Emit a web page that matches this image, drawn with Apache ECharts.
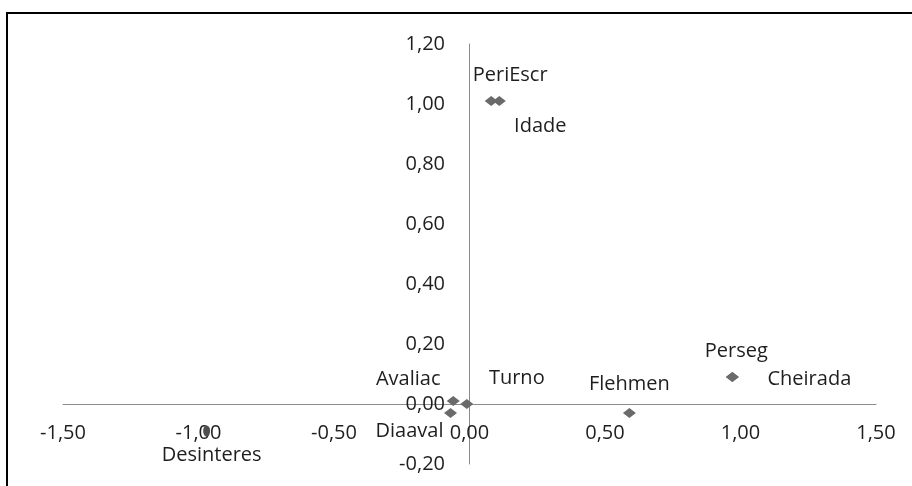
<!DOCTYPE html>
<html>
<head>
<meta charset="utf-8">
<script src="https://cdn.jsdelivr.net/npm/echarts@6/dist/echarts.min.js"></script>
<style>
  html, body { margin: 0; padding: 0; background: #fff; overflow: hidden; }
  #frame { position: absolute; left: 6px; top: 12px; width: 1000px; height: 600px;
           border-left: 2px solid #000; border-top: 2px solid #000; }
  #chart { position: absolute; left: 0; top: 0; width: 912px; height: 486px; }
</style>
</head>
<body>
<div id="frame"></div>
<div id="chart"></div>
<script>
// pontos (variáveis)
var names = ['PeriEscr', 'Idade', 'Avaliac', 'Turno', 'Diaaval', 'Flehmen', 'Perseg', 'Cheirada', 'Desinteres'];
var xVals = [0.08, 0.11, -0.06, -0.01, -0.07, 0.59, 0.97, 0.97, -0.97];
var yVals = [1.01, 1.01, 0.01, 0.00, -0.03, -0.03, 0.09, 0.09, -0.09];

// posição dos rótulos (deslocamento do texto em px)
var labelOffsets = {
    PeriEscr: [19, -26],
    Idade: [41, 25],
    Avaliac: [-45, -22],
    Turno: [50, -26],
    Diaaval: [-41, 18],
    Flehmen: [0, -29],
    Perseg: [4, -26],
    Cheirada: [77, 2],
    Desinteres: [5, 24]
};

var fonte = '"Open Sans", "Noto Sans", sans-serif';
var corTexto = '#1e1e1e';

function fmt(v) {
    return v.toFixed(2).replace('.', ',');
}

var pontos = names.map(function (n, i) {
    var item = {
        name: n,
        value: [xVals[i], yVals[i]],
        label: { offset: labelOffsets[n] }
    };
    if (n === 'Desinteres') {
        item.symbol = 'circle';
        item.symbolSize = [7, 11];
        item.itemStyle = { color: '#4f4f4f', opacity: 1 };
    }
    return item;
});

var myChart = echarts.init(document.getElementById('chart'));
myChart.setOption({
    animation: false,
    textStyle: { fontFamily: fonte },
    grid: { left: 63, right: 36, top: 44, bottom: 22, containLabel: false, outerBoundsMode: 'none' },
    xAxis: {
        type: 'value',
        min: -1.5,
        max: 1.5,
        interval: 0.5,
        axisLine: { onZero: true, lineStyle: { color: '#8c8c8c', width: 1 } },
        axisTick: { show: false },
        splitLine: { show: false },
        // rótulos junto ao eixo que passa no zero
        axisLabel: { margin: -41, color: corTexto, fontSize: 20, fontFamily: fonte, formatter: fmt,
                     showMinLabel: true, showMaxLabel: true, hideOverlap: false }
    },
    yAxis: {
        type: 'value',
        min: -0.2,
        max: 1.2,
        interval: 0.2,
        axisLine: { onZero: true, lineStyle: { color: '#8c8c8c', width: 1 } },
        axisTick: { show: false },
        splitLine: { show: false },
        axisLabel: { margin: -382, color: corTexto, fontSize: 20, fontFamily: fonte, formatter: fmt,
                     showMinLabel: true, showMaxLabel: true, hideOverlap: false }
    },
    series: [{
        type: 'scatter',
        data: pontos,
        symbol: 'diamond',
        symbolSize: [13, 10],
        itemStyle: { color: '#6a6a6a', opacity: 1 },
        z: 5,
        label: {
            show: true,
            position: 'inside',
            align: 'center',
            verticalAlign: 'middle',
            formatter: '{b}',
            color: corTexto,
            fontSize: 20,
            fontFamily: fonte
        }
    }]
});
</script>
</body>
</html>
